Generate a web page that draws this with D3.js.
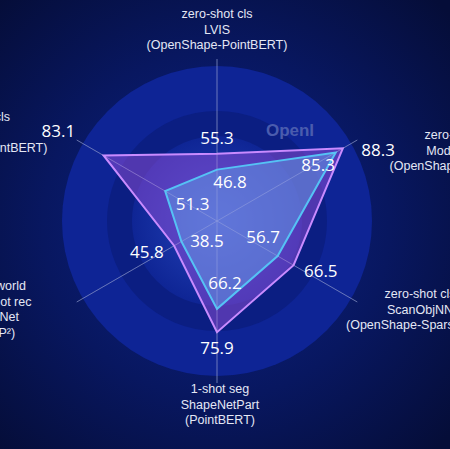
<!DOCTYPE html>
<html><head><meta charset="utf-8">
<script src="https://cdn.jsdelivr.net/npm/d3@7"></script>
<style>body{margin:0;background:#06103f;overflow:hidden}</style>
</head><body><svg id="chart" width="450" height="449"></svg>
<script>
// axes, clockwise from top
const axes = ['LVIS', 'ModelNet40', 'ScanObjNN', 'ShapeNetPart', 'ScanNet', 'Objaverse'];
const axisLabels = [
  ['zero-shot cls', 'LVIS', '(OpenShape-PointBERT)'],
  ['zero-shot cls', 'ModelNet40', '(OpenShape-PointBERT)'],
  ['zero-shot cls', 'ScanObjNN', '(OpenShape-SparseConv)'],
  ['1-shot seg', 'ShapeNetPart', '(PointBERT)'],
  ['open-world', 'zero-shot rec', 'ScanNet', '(CLIP²)'],
  ['few-shot cls', 'MN40', '(OpenShape-PointBERT)']
];
const ours = [55.3, 88.3, 66.5, 75.9, 45.8, 83.1];
const prev = [46.8, 85.3, 56.7, 66.2, 38.5, 51.3];

const svg = d3.select('#chart');
const cx = 217, cy = 221, R = 162;

// background glow
const defs = svg.append('defs');
const bg = defs.append('radialGradient').attr('id', 'bg').attr('cx', '48%').attr('cy', '50%').attr('r', '70%');
bg.append('stop').attr('offset', '0%').attr('stop-color', '#0d2486');
bg.append('stop').attr('offset', '55%').attr('stop-color', '#081760');
bg.append('stop').attr('offset', '100%').attr('stop-color', '#050d38');
svg.append('rect').attr('width', 450).attr('height', 449).attr('fill', 'url(#bg)');

const inner = defs.append('radialGradient').attr('id', 'inner');
inner.append('stop').attr('offset', '0%').attr('stop-color', '#2a4cc4');
inner.append('stop').attr('offset', '100%').attr('stop-color', '#0f2698');

svg.append('circle').attr('cx', cx).attr('cy', cy).attr('r', 155).attr('fill', '#0e2495');
svg.append('circle').attr('cx', cx).attr('cy', cy).attr('r', 110).attr('fill', '#0b1e82');
svg.append('circle').attr('cx', cx).attr('cy', cy).attr('r', 85).attr('fill', 'url(#inner)').attr('opacity', 0.85);

svg.append('text').attr('x', 290).attr('y', 136).attr('text-anchor', 'middle')
  .attr('font-family', 'Liberation Sans, Arial').attr('font-weight', 'bold').attr('font-size', 17)
  .attr('fill', '#4a5cae').text('OpenI');

const r = d3.scaleLinear().domain([0, 45, 70, 90]).range([0, 48, 95, 150]);
const ang = i => -Math.PI / 2 + i * Math.PI / 3;
const pt = (i, rad) => [cx + rad * Math.cos(ang(i)), cy + rad * Math.sin(ang(i))];

// spokes
svg.selectAll('.spoke').data(axes).enter().append('line')
  .attr('x1', cx).attr('y1', cy)
  .attr('x2', (d, i) => pt(i, R)[0]).attr('y2', (d, i) => pt(i, R)[1])
  .attr('stroke', '#8a96c8').attr('stroke-width', 0.8).attr('opacity', 0.7);

const line = d3.line().curve(d3.curveLinearClosed);
svg.append('path').attr('d', line(ours.map((v, i) => pt(i, r(v)))))
  .attr('fill', 'rgba(150,80,220,0.5)').attr('stroke', '#c98bff').attr('stroke-width', 2);
svg.append('path').attr('d', line(prev.map((v, i) => pt(i, r(v)))))
  .attr('fill', 'rgba(100,170,235,0.45)').attr('stroke', '#55c2f5').attr('stroke-width', 2);

// spokes over fills, faint
svg.selectAll('.spoke2').data(axes).enter().append('line')
  .attr('x1', cx).attr('y1', cy)
  .attr('x2', (d, i) => pt(i, R)[0]).attr('y2', (d, i) => pt(i, R)[1])
  .attr('stroke', '#b0b8e0').attr('stroke-width', 0.6).attr('opacity', 0.35);

const vfont = 'Open Sans, Noto Sans, sans-serif';
// small nudges per axis for the value labels
const outDx = [0, 8, 0, 0, 0, -18], outDy = [6, 14, 6, 6, 6, -12];
const inDx = [13, 5, 8, 8, 3, 5], inDy = [-8, 6, 0, 6, 18, 6];
const anchor = i => (i === 0 || i === 3) ? 'middle' : (i < 3 ? 'start' : 'end');
svg.selectAll('.vo').data(ours).enter().append('text')
  .attr('x', (v, i) => pt(i, r(v) + (i === 0 || i === 3 ? 16 : 12))[0] + outDx[i])
  .attr('y', (v, i) => pt(i, r(v) + (i === 0 || i === 3 ? 16 : 12))[1] + outDy[i])
  .attr('text-anchor', (v, i) => anchor(i))
  .attr('font-family', vfont).attr('font-size', 17).attr('fill', '#fff').text(v => v);

svg.selectAll('.vp').data(prev).enter().append('text')
  .attr('x', (v, i) => pt(i, Math.max(r(v) - 26, 12))[0] + inDx[i])
  .attr('y', (v, i) => pt(i, Math.max(r(v) - 26, 12))[1] + inDy[i])
  .attr('text-anchor', 'middle')
  .attr('font-family', vfont).attr('font-size', 17).attr('fill', '#fff').text(v => v);

// axis labels
const labelPos = [[217, 18], [460, 139], [420, 298], [220, 393], [-5, 290], [-23, 121]];
axisLabels.forEach((lines, i) => {
  const t = svg.append('text').attr('text-anchor', 'middle')
    .attr('font-family', 'Liberation Sans, Arial').attr('font-size', 12.5).attr('fill', '#e4e7f5');
  lines.forEach((s, j) => t.append('tspan').attr('x', labelPos[i][0]).attr('y', labelPos[i][1] + j * 15.5).text(s));
});
</script></body></html>
